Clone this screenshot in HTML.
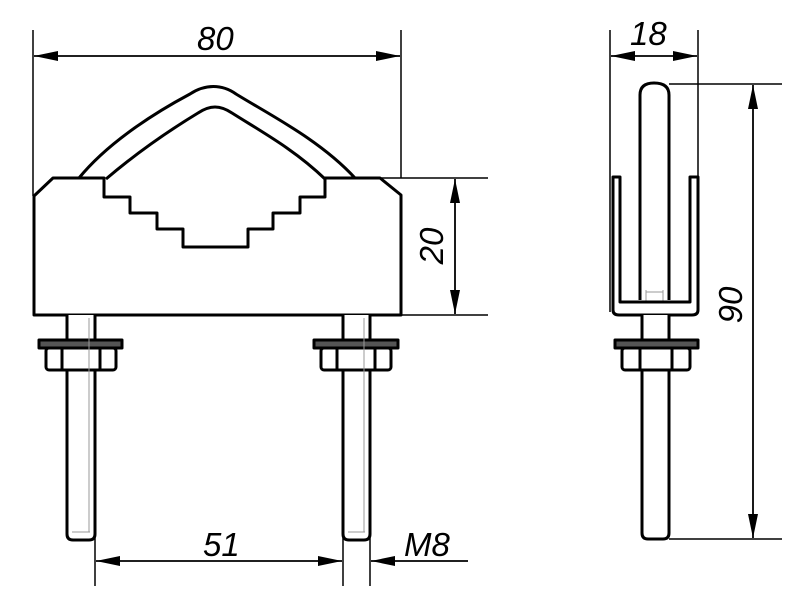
<!DOCTYPE html>
<html><head><meta charset="utf-8"><style>
html,body{margin:0;padding:0;background:#fff;width:800px;height:600px;overflow:hidden}
text{font-family:"Liberation Sans",sans-serif;font-style:italic;font-size:33px;fill:#000}
</style></head><body>
<svg width="800" height="600" viewBox="0 0 800 600" xmlns="http://www.w3.org/2000/svg">
<defs>
<marker id="a" viewBox="0 0 24 10" refX="24" refY="5" markerWidth="24" markerHeight="10" markerUnits="userSpaceOnUse" orient="auto-start-reverse"><path d="M0,0 L24,5 L0,10 Z" fill="#000"/></marker>
</defs>
<g stroke="#000" fill="none">
<g stroke-width="1.5">
<line x1="33" y1="30" x2="33" y2="196"/>
<line x1="401" y1="30" x2="401" y2="178"/>
<line x1="380" y1="178" x2="488" y2="178"/>
<line x1="402" y1="315" x2="488" y2="315"/>
<line x1="95" y1="538" x2="95" y2="586"/>
<line x1="343" y1="538" x2="343" y2="586"/>
<line x1="370" y1="538" x2="370" y2="586"/>
<line x1="610" y1="30" x2="610" y2="312"/>
<line x1="698" y1="30" x2="698" y2="178"/>
<line x1="669" y1="84" x2="782" y2="84"/>
<line x1="669" y1="539" x2="782" y2="539"/>
</g>
<g stroke-width="1.8">
<line x1="34" y1="56" x2="400" y2="56" marker-start="url(#a)" marker-end="url(#a)"/>
<line x1="455" y1="179" x2="455" y2="314" marker-start="url(#a)" marker-end="url(#a)"/>
<line x1="96" y1="561" x2="342" y2="561" marker-start="url(#a)" marker-end="url(#a)"/>
<line x1="468" y1="561" x2="371" y2="561" marker-end="url(#a)"/>
<line x1="611" y1="56" x2="697" y2="56" marker-start="url(#a)" marker-end="url(#a)"/>
<line x1="753" y1="85" x2="753" y2="538" marker-start="url(#a)" marker-end="url(#a)"/>
</g>
<g stroke-width="3" stroke-linejoin="round">
<path d="M34,315 L34,196 L53,178 L104,178 L104,197 L130,197 L130,213 L157,213 L157,229 L183,229 L183,247 L248,247 L248,229 L273,229 L273,213 L300,213 L300,197 L325,197 L325,178 L380,178 L401,195 L401,315 Z" fill="#fff"/>
<path d="M79,178 C110,140 160,110 190,94 C205,84 222,84 236,94 C270,115 320,140 355,178"/>
<path d="M106,179 C140,150 170,130 198,113 C210,105 220,105 232,113 C262,132 295,150 325,179"/>
</g>
<g stroke-width="3" stroke-linejoin="round" fill="#fff">
<path d="M67,315 L67,534 Q67,540 73,540 L89,540 Q95,540 95,534 L95,315"/>
<rect x="39" y="340" width="83" height="8" fill="#555"/>
<rect x="46" y="348" width="70" height="22" rx="3"/>
<line x1="62" y1="348" x2="62" y2="370"/>
<line x1="100" y1="348" x2="100" y2="370"/>
<path d="M343,315 L343,534 Q343,540 349,540 L364,540 Q370,540 370,534 L370,315"/>
<rect x="314" y="340" width="84" height="8" fill="#555"/>
<rect x="321" y="348" width="70" height="22" rx="3"/>
<line x1="337" y1="348" x2="337" y2="370"/>
<line x1="375" y1="348" x2="375" y2="370"/>
</g>
<g stroke="#999" stroke-width="1">
<line x1="89" y1="318" x2="89" y2="532"/><line x1="72" y1="532" x2="90" y2="532"/>
<line x1="364" y1="318" x2="364" y2="532"/><line x1="348" y1="532" x2="365" y2="532"/>
<line x1="663" y1="372" x2="663" y2="532"/><line x1="647" y1="532" x2="664" y2="532"/>
<line x1="646" y1="290" x2="646" y2="340"/><line x1="663" y1="290" x2="663" y2="340"/><line x1="646" y1="292" x2="663" y2="292"/>
</g>
<g stroke-width="3" stroke-linejoin="round">
<path d="M640,300 L640,95 Q640,83 654,83 Q669,83 669,95 L669,300"/>
<path d="M613,177 L620,177 L620,302 L690,302 L690,177 L698,177 L698,310 Q698,315 692,315 L619,315 Q613,315 613,310 Z" fill="#fff"/>
<path d="M642,315 L642,533 Q642,539 648,539 L663,539 Q669,539 669,533 L669,315" fill="#fff"/>
<rect x="615" y="340" width="83" height="8" fill="#555"/>
<rect x="622" y="348" width="68" height="22" rx="3" fill="#fff"/>
<line x1="640" y1="348" x2="640" y2="370"/>
<line x1="672" y1="348" x2="672" y2="370"/>
</g>
</g>
<text x="197" y="50">80</text>
<text x="630" y="45" font-size="29">18</text>
<text x="203" y="556">51</text>
<text x="404" y="556" font-size="29">M8</text>
<text transform="translate(443,246) rotate(-90)" text-anchor="middle">20</text>
<text transform="translate(742,305) rotate(-90)" text-anchor="middle">90</text>
</svg>
</body></html>
